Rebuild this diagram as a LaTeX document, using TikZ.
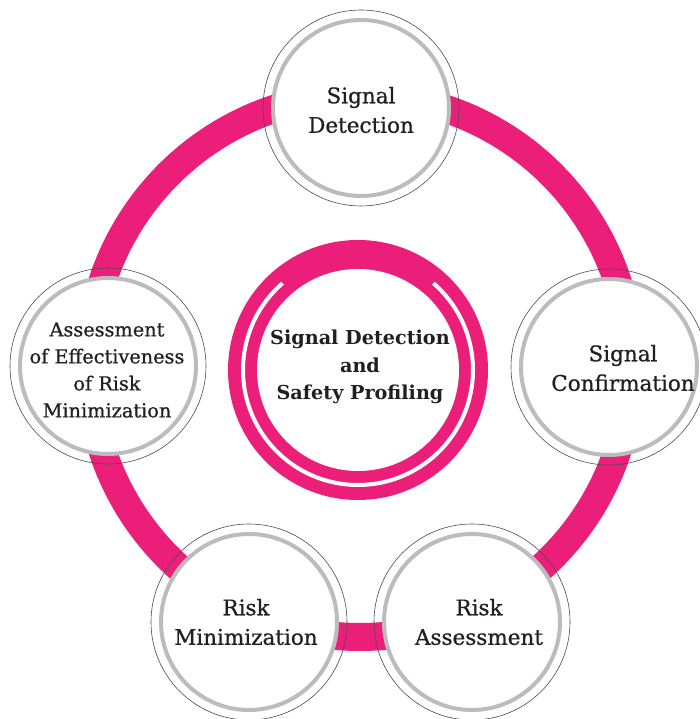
\documentclass[tikz,border=0pt]{standalone}
\usepackage{fontspec}
\setmainfont{DejaVu Serif}
\newfontfamily\medserif{DejaVu Serif}[FakeBold=0.8]
\definecolor{ringpink}{HTML}{EB1E79}
\definecolor{ringgray}{HTML}{BDBBBB}
\definecolor{txt}{HTML}{231F20}
\tikzset{
  sat/.style={circle, draw=ringgray, line width=4pt, fill=white, minimum size=176pt, inner sep=0pt},
  halo/.style={draw=black!70, line width=0.6pt},
  sattext/.style={text=txt, align=center, inner sep=0pt, font=\medserif\fontsize{21.5}{29.5}\selectfont},
  smalltext/.style={text=txt, align=center, inner sep=0pt, font=\medserif\fontsize{19.3}{27}\selectfont},
  hubtext/.style={text=txt, align=center, inner sep=0pt, font=\bfseries\fontsize{19.2}{27.5}\selectfont}
}
\begin{document}
\begin{tikzpicture}[x=1pt,y=1pt]
\useasboundingbox (0,0) rectangle (699,719);
\fill[white] (0,0) rectangle (699,719);
% outer ring
\coordinate (rc) at (360,353);
\draw[ringpink, line width=28pt] (rc) circle[radius=271pt];
% hub
\node[circle, fill=ringpink, minimum size=260pt, inner sep=0pt] (hub) at (358,349) {};
\fill[white] (hub.center) circle[radius=101pt];
\draw[white, line width=4pt] (hub.center) ++(131:115pt) arc[start angle=131, end angle=409, radius=115pt];
\node[hubtext] (hubt) at (360,352) {Signal Detection\\and\\Safety Profiling};
% satellites
\node[sat] (sd) at (361,611) {};
\node[sat] (sc) at (609,352) {};
\node[sat] (ra) at (472,97) {};
\node[sat] (rm) at (249,97) {};
\node[sat] (ae) at (108,353) {};
\foreach \n in {sd,sc,ra,rm,ae}{\draw[halo] (\n.center) circle[radius=98pt];}
\node[sattext] (sdt) at (361,609) {Signal\\Detection};
\node[sattext] (sct) at (623,351) {Signal\\Confirmation};
\node[sattext] (rat) at (479,97) {Risk\\Assessment};
\node[sattext] (rmt) at (246,97) {Risk\\Minimization};
\node[smalltext] (aet) at (107,349) {Assessment\\of Effectiveness\\of Risk\\Minimization};
\end{tikzpicture}
\end{document}
